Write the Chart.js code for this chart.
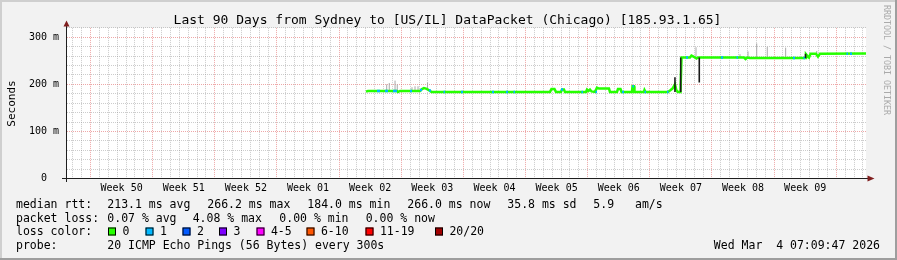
<!DOCTYPE html>
<html>
<head>
<meta charset="utf-8">
<style>
html,body{margin:0;padding:0;background:#f2f2f2;overflow:hidden}
canvas{display:block}
</style>
<script src="https://cdn.jsdelivr.net/npm/chart.js@4/dist/chart.umd.min.js"></script>
</head>
<body>
<canvas id="c" width="897" height="260"></canvas>
<script>
// ---------- data ----------
const chartTitle = "Last 90 Days from Sydney to [US/IL] DataPacket (Chicago) [185.93.1.65]";
const yAxisTitle = "Seconds";
const watermark = "RRDTOOL / TOBI OETIKER";
const weekLabels = ["Week 50","Week 51","Week 52","Week 01","Week 02","Week 03","Week 04","Week 05","Week 06","Week 07","Week 08","Week 09"];
const weekStartDays = [2.65,9.65,16.65,23.65,30.65,37.65,44.65,51.65,58.65,65.65,72.65,79.65,86.65];
const yTickLabels = {0:"0  ",100:"100 m",200:"200 m",300:"300 m"};

// median rtt (ms) at day offsets from graph start
const medianDays = [33.68,33.90,37.17,37.28,37.51,39.76,39.99,40.21,40.44,40.66,40.89,41.06,54.40,54.57,54.91,55.08,55.64,55.76,55.98,56.09,58.46,58.57,58.74,58.91,59.08,59.47,59.70,59.92,61.05,61.16,61.95,62.06,62.35,62.46,63.64,63.70,63.87,63.92,64.99,65.05,65.16,67.69,67.92,68.20,68.48,68.65,68.82,69.10,69.22,70.17,70.34,70.57,70.74,70.91,71.08,75.70,76.26,76.43,76.60,76.93,83.13,83.24,83.41,83.58,83.75,84.37,84.59,84.82,90.00];
const medianMs = [184.5,186,186,184,186,186,190,192,191,189,186,184,184,190,190,184,184,189,189,184,184,189,186,189,185,184,193,191,191,184,184,190,190,184,184,196,196,184,184,188,184,184,187,191,200,187,184,184,257,257,261,259,257,255,257,257,257,254,257,256,256,264,260,257,265,265,259,265,265.5];

// stretches with 1/20 packet loss
const loss1Start = [34.92,35.82,36.72,38.64,39.76,40.77,42.41,44.38,47.87,49.45,50.29,55.64,57.95,59.53,62.52,63.70,65.05,67.58,69.72,73.67,75.41,81.78,82.96,87.80,88.20];
const loss1End   = [35.26,36.16,37.17,38.86,39.99,40.99,42.58,44.61,48.10,49.68,50.46,55.87,58.12,59.70,62.74,63.87,65.22,67.75,69.95,73.90,75.58,82.00,83.13,87.97,88.42];
const loss1Ms    = [186,186,186,186,188,187,184,184,184,184,184,189,184,184,184,196,184,184,257,257,257,256,256,265,265];

// smoke (ping spread), light
const smokeDays = [36.01,36.30,36.95,37.20,38.86,39.20,39.54,40.61,70.85,75.81,76.71,77.69,78.88,80.95,84.45];
const smokeLow  = [186,186,186,186,186,186,186,191,257,257,257,257,257,256,265];
const smokeHigh = [200,203,208,200,194,196,196,204,279,264,270,287,280,278,271];
// dense smoke
const darkDays = [68.48,69.13,71.22,83.19];
const darkLow  = [184,184,204,256];
const darkHigh = [215,257,257,265];

const rttStats = ["213.1 ms avg","266.2 ms max","184.0 ms min","266.0 ms now","35.8 ms sd","5.9","am/s"];
const lossStats = ["0.07 % avg","4.08 % max","0.00 % min","0.00 % now"];
const lossLabels = ["0","1","2","3","4-5","6-10","11-19","20/20"];
const lossColors = ["#26ff00","#00b8ff","#0059ff","#7e00ff","#ff00ff","#ff5500","#ff0000","#a10000"];
const probeText = "20 ICMP Echo Pings (56 Bytes) every 300s";
const dateText = "Wed Mar  4 07:09:47 2026";

// ---------- build ----------
const MONO = '"DejaVu Sans Mono", monospace';
Chart.defaults.font.family = MONO;
const GRID = 'rgba(143,143,143,0.45)';
const MGRID = 'rgba(222,79,79,0.5)';

const medianData = medianDays.map((d,i)=>({x:d,y:medianMs[i]}));
const lossData = [];
loss1Start.forEach((s,i)=>{ lossData.push({x:s,y:loss1Ms[i]},{x:loss1End[i],y:loss1Ms[i]},{x:loss1End[i],y:null}); });
const smokeData = [];
smokeDays.forEach((d,i)=>{ smokeData.push({x:d,y:smokeLow[i]},{x:d,y:smokeHigh[i]},{x:d,y:null}); });
const darkData = [];
darkDays.forEach((d,i)=>{ darkData.push({x:d,y:darkLow[i]},{x:d,y:darkHigh[i]},{x:d,y:null}); });

const dayGrid = [];
for (let k = 0; k < 90; k++) dayGrid.push(0.65 + k);
const weekMid = weekLabels.map((_,i)=>(weekStartDays[i]+weekStartDays[i+1])/2);
const isWeek = v => weekStartDays.some(w => Math.abs(w - v) < 0.01);

const frame = {
  id: 'frame',
  beforeDraw(chart) {
    const c = chart.ctx, W = chart.width, H = chart.height, a = chart.chartArea;
    c.save();
    c.fillStyle = '#f2f2f2'; c.fillRect(0,0,W,H);
    c.fillStyle = '#cfcfcf'; c.fillRect(0,0,W,2); c.fillRect(0,0,2,H);
    c.fillStyle = '#9e9e9e'; c.fillRect(0,H-2,W,2); c.fillRect(W-2,0,2,H);
    c.fillStyle = '#ffffff'; c.fillRect(a.left, a.top, a.right-a.left, a.bottom-a.top);
    c.restore();
  },
  afterDraw(chart) {
    const c = chart.ctx, a = chart.chartArea;
    const ys = chart.scales.y;
    const y0 = Math.round(ys.getPixelForValue(0)) - 0.5;
    const xl = Math.round(a.left) - 0.5;
    c.save();
    // axes
    c.strokeStyle = '#1f1f1f'; c.lineWidth = 1;
    c.beginPath(); c.moveTo(xl, 182); c.lineTo(xl, 25); c.stroke();
    c.beginPath(); c.moveTo(62, y0); c.lineTo(868, y0); c.stroke();
    c.fillStyle = '#801f1f';
    c.beginPath(); c.moveTo(xl, 20.5); c.lineTo(xl-3, 26.5); c.lineTo(xl+3, 26.5); c.closePath(); c.fill();
    c.beginPath(); c.moveTo(874.5, y0); c.lineTo(867.5, y0-3); c.lineTo(867.5, y0+3); c.closePath(); c.fill();
    // title
    c.fillStyle = '#000';
    c.font = '13px ' + MONO; c.textAlign = 'center'; c.textBaseline = 'alphabetic';
    c.fillText(chartTitle, 447.5, 23.5);
    // y title
    c.save(); c.translate(15, 103.5); c.rotate(-Math.PI/2);
    c.font = '11px ' + MONO; c.textAlign = 'center'; c.fillText(yAxisTitle, 0, 0); c.restore();
    // watermark
    c.save(); c.translate(884, 5); c.rotate(Math.PI/2);
    c.font = '8.3px ' + MONO; c.textAlign = 'left'; c.fillStyle = '#aaaaaa'; c.fillText(watermark, 0, 0); c.restore();
    // legend
    c.font = '11.5px ' + MONO; c.textAlign = 'left'; c.fillStyle = '#000';
    const b = [207.6, 221.5, 235.4, 249.3];
    c.fillText('median rtt:', 16, b[0]);
    [107.3,207.3,307.3,407.3,507.3,593.3,635].forEach((x,i)=>c.fillText(rttStats[i], x, b[0]));
    c.fillText('packet loss:', 16, b[1]);
    [107.3,192.7,279.3,365.7].forEach((x,i)=>c.fillText(lossStats[i], x, b[1]));
    c.fillText('loss color:', 16, b[2]);
    [108,145.5,182.5,219,256.5,306.5,365.5,435].forEach((x,i)=>{
      c.fillStyle = lossColors[i]; c.fillRect(x, 227.5, 8, 8);
      c.strokeStyle = '#000'; c.strokeRect(x+0.5, 228, 7, 7);
      c.fillStyle = '#000'; c.fillText(lossLabels[i], x+14.4, b[2]);
    });
    c.fillText('probe:', 16, b[3]);
    c.fillText(probeText, 107.3, b[3]);
    c.textAlign = 'right'; c.fillText(dateText, 880, b[3]);
    c.restore();
  }
};

new Chart(document.getElementById('c'), {
  type: 'line',
  data: { datasets: [
    { label:'dark smoke', data: darkData, borderColor:'#1a1a1a', borderWidth:1.6, spanGaps:false, order:0, xAxisID:'x' },
    { label:'loss 1', data: lossData, borderColor: lossColors[1], borderWidth:2.5, spanGaps:false, order:1, xAxisID:'x' },
    { label:'median rtt', data: medianData, borderColor: lossColors[0], borderWidth:2.5, order:2, xAxisID:'x' },
    { label:'smoke', data: smokeData, borderColor:'#a8a8a8', borderWidth:1, spanGaps:false, order:3, xAxisID:'x' }
  ]},
  options: {
    responsive:false, animation:false, devicePixelRatio:1,
    layout: { padding: { top: 27.9, right: 31, left: 0, bottom: 0 } },
    plugins: { legend:{display:false}, tooltip:{enabled:false} },
    elements: { point:{radius:0}, line:{tension:0, borderCapStyle:'butt'} },
    scales: {
      x: { type:'linear', min:0, max:90, position:'bottom',
        afterBuildTicks: s => { s.ticks = dayGrid.map(v=>({value:v})); },
        afterFit: s => { s.height = 0; },
        ticks: { display:false },
        grid: { color: ctx => isWeek(ctx.tick.value) ? MGRID : GRID, drawTicks:false, lineWidth:1 },
        border: { display:false, dash:[1,1] } },
      xw: { type:'linear', min:0, max:90, position:'bottom',
        afterBuildTicks: s => { s.ticks = weekMid.map(v=>({value:v})); },
        afterFit: s => { s.height = 81.5; },
        ticks: { autoSkip:false, maxRotation:0, minRotation:0, font:{size:10}, color:'#000', padding:4,
          callback: (v,i) => weekLabels[i] },
        grid: { display:false, drawTicks:false }, border: { display:false } },
      y: { type:'linear', min:0, max:320,
        afterBuildTicks: s => { const t=[]; for (let v=0; v<=320; v+=20) t.push({value:v}); s.ticks = t; },
        afterFit: s => { s.width = 67; },
        ticks: { autoSkip:false, font:{size:10}, color:'#000', padding:8,
          callback: v => (v in yTickLabels) ? yTickLabels[v] : '' },
        grid: { color: ctx => (ctx.tick.value % 100 === 0) ? MGRID : GRID, drawTicks:false, lineWidth:1 },
        border: { display:false, dash:[1,1] } }
    }
  },
  plugins: [frame]
});
</script>
</body>
</html>
